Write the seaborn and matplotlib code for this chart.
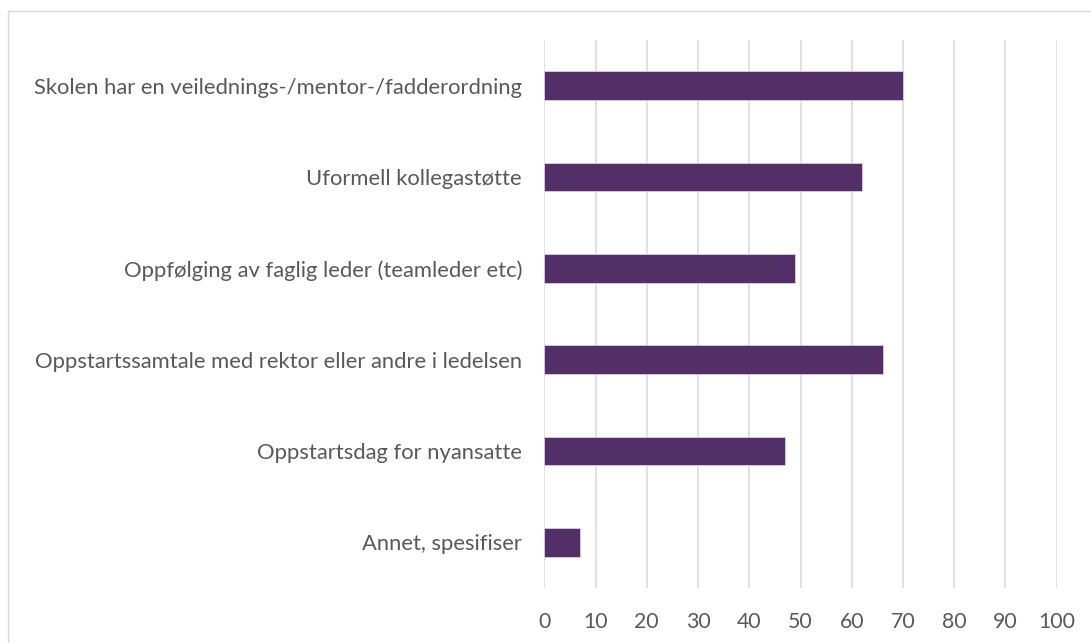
import matplotlib
matplotlib.use("Agg")
import matplotlib.pyplot as plt
import seaborn as sns
import pandas as pd
from matplotlib.patches import Rectangle

# Data
kategorier = [
    "Skolen har en veilednings-/mentor-/fadderordning",
    "Uformell kollegastøtte",
    "Oppfølging av faglig leder (teamleder etc)",
    "Oppstartssamtale med rektor eller andre i ledelsen",
    "Oppstartsdag for nyansatte",
    "Annet, spesifiser",
]
verdier = [70, 62, 49, 66, 47, 7]
x_ticks = [0, 10, 20, 30, 40, 50, 60, 70, 80, 90, 100]

df = pd.DataFrame({"kategori": kategorier, "verdi": verdier})

sns.set_style("white")
plt.rcParams["font.family"] = ["Lato", "DejaVu Sans"]

fig = plt.figure(figsize=(10.91, 6.43), dpi=100)
ax = fig.add_axes([0.4989, 0.0855, 0.4697, 0.8523])

sns.barplot(data=df, x="verdi", y="kategori", orient="h", color="#542670",
            width=0.314, edgecolor="#d9cfe3", linewidth=0.6, ax=ax, zorder=3)

ax.set_xlim(0, 100)
ax.set_ylim(5.5, -0.5)
ax.set_xticks(x_ticks)
ax.set_xticklabels([str(t) for t in x_ticks])
ax.grid(axis="x", color="#d9d9d9", linewidth=1.1, zorder=0)
ax.grid(axis="y", visible=False)
for s in ax.spines.values():
    s.set_visible(False)
ax.tick_params(axis="both", length=0, labelcolor="#595959")
ax.tick_params(axis="y", pad=16, labelsize=15.8)
ax.tick_params(axis="x", pad=17, labelsize=15.3)
ax.set_xlabel("")
ax.set_ylabel("")

# chart area border (cropped at the right and bottom like the reference)
fig.patches.append(Rectangle((7.5 / 1091, -0.1), 1.2, 1.1 - 11.5 / 643,
                             transform=fig.transFigure, fill=False,
                             edgecolor="#d9d9d9", linewidth=1.0))

plt.savefig("out.png", dpi=100)
plt.close()
